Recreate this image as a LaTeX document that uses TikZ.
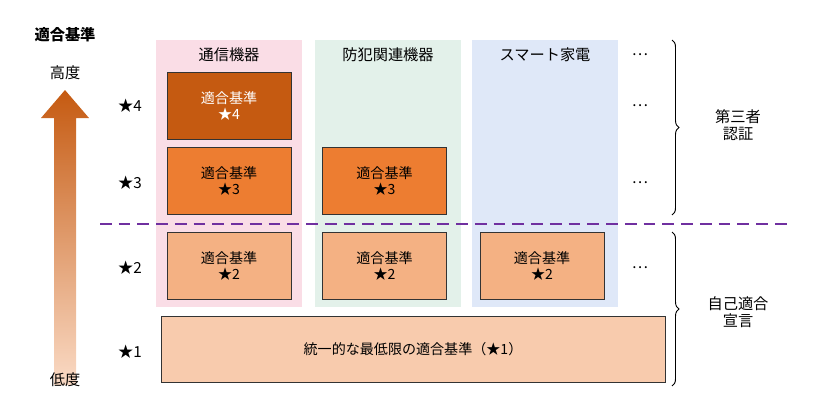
\documentclass[tikz,border=0pt]{standalone}
\usepackage{fontspec}
\setmainfont{Noto Sans CJK JP}
\usetikzlibrary{decorations.pathreplacing}
\definecolor{lv4}{HTML}{C55A11}
\definecolor{lv3}{HTML}{ED7D31}
\definecolor{lv2}{HTML}{F4B183}
\definecolor{lv1}{HTML}{F8CBAD}
\definecolor{bgpink}{HTML}{FADDE6}
\definecolor{bggreen}{HTML}{E3F1EA}
\definecolor{bgblue}{HTML}{DFE8F8}
\definecolor{dashpurple}{HTML}{7030A0}
\tikzset{
  lbl/.style={font=\fontsize{13}{15}\selectfont},
  std/.style={draw=black!80, line width=0.8pt, minimum width=124*0.3mm,
    minimum height=67*0.3mm, align=center, inner sep=0pt,
    font=\fontsize{12}{14}\selectfont},
  col/.style={inner sep=0pt, minimum width=146*0.3mm, minimum height=267*0.3mm},
}
\begin{document}
\begin{tikzpicture}[x=0.3mm,y=-0.3mm]
  \useasboundingbox (0,0) rectangle (819,411);
  % columns
  \node[col, fill=bgpink] (c1) at (229,173.5) {};
  \node[col, fill=bggreen] (c2) at (388,173.5) {};
  \node[col, fill=bgblue] (c3) at (544.5,173.5) {};
  \node[lbl] (h1) at (229,55) {通信機器};
  \node[lbl] (h2) at (388,55) {防犯関連機器};
  \node[lbl] (h3) at (545,55) {スマート家電};
  % boxes
  \node[std, fill=lv4, text=white] (b14) at (229,106) {適合基準\\★4};
  \node[std, fill=lv3] (b13) at (229,181) {適合基準\\★3};
  \node[std, fill=lv3] (b23) at (384.5,181) {適合基準\\★3};
  \node[std, fill=lv2] (b12) at (229,266) {適合基準\\★2};
  \node[std, fill=lv2] (b22) at (384.5,266) {適合基準\\★2};
  \node[std, fill=lv2] (b32) at (542,266) {適合基準\\★2};
  \node[std, fill=lv1, minimum width=504*0.3mm, minimum height=66*0.3mm] (b1) at (413,349) {統一的な最低限の適合基準（★1）};
  % dots
  \foreach \y/\n in {55/d0,106/d4,183/d3,268/d2}
    \node[lbl] (\n) at (640,\y) {…};
  % levels
  \foreach \y/\s in {106/4,183/3,268/2,352/1}
    \node[lbl] (s\s) at (130,\y) {★\s};
  \draw[dashpurple, line width=1.5pt, dash pattern=on 10pt off 6pt] (100,224) -- (790,224);
  % arrow
  \shade[top color=lv4, bottom color=lv1!70]
    (54,385) -- (76,385) -- (76,118) -- (89,118) -- (65,90) -- (41,118) -- (54,118) -- cycle;
  \node[lbl, font=\fontsize{13}{15}\selectfont\bfseries] (ttl) at (65,35) {適合基準};
  \node[lbl] (hi) at (65,73) {高度};
  \node[lbl] (lo) at (65,380) {低度};
  % braces
  \draw[decorate, decoration={brace, amplitude=6pt}, line width=0.8pt] (672,40) -- (672,215);
  \draw[decorate, decoration={brace, amplitude=6pt}, line width=0.8pt] (672,232) -- (672,386);
  \node[lbl, align=center] (tp) at (738,125) {第三者\\認証};
  \node[lbl, align=center] (sd) at (738,312) {自己適合\\宣言};
\end{tikzpicture}
\end{document}
